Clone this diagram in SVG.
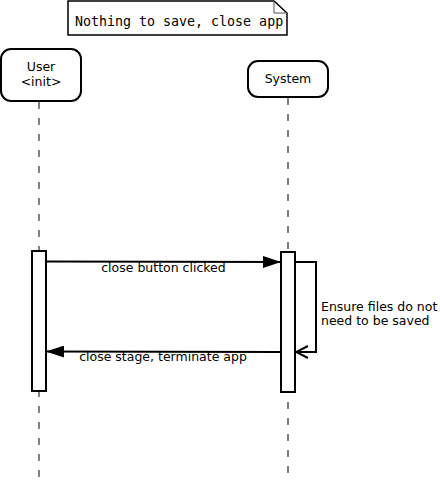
<svg xmlns="http://www.w3.org/2000/svg" width="440" height="482" viewBox="0 0 440 482">
<style>
.box{fill:#fff;stroke:#000;stroke-width:2}
.life{stroke:#808080;stroke-width:2;stroke-dasharray:7 9;fill:none}
.act{fill:#fff;stroke:#000;stroke-width:2}
.msg{stroke:#000;stroke-width:2;fill:none}
.t{font-family:"DejaVu Sans",sans-serif;font-size:12.5px;fill:#000}
.mono{font-family:"DejaVu Sans Mono",monospace;font-size:13.3px;fill:#000}
</style>
<defs>
<marker id="fill" markerWidth="18" markerHeight="12" refX="18" refY="6" orient="auto" markerUnits="userSpaceOnUse">
<path d="M0,0 L18,6 L0,12 Z" fill="#000"/>
</marker>
<marker id="open" markerWidth="14" markerHeight="14" refX="13" refY="7" orient="auto" markerUnits="userSpaceOnUse">
<path d="M1,1 L13,7 L1,13" fill="none" stroke="#000" stroke-width="2"/>
</marker>
</defs>
<g id="note">
<path d="M68,1 H274 L287,13 V35 H68 Z" fill="#fff" stroke="#000" stroke-width="1.5"/>
<path d="M274,1 V13 H287" fill="none" stroke="#555" stroke-width="1"/>
<text class="mono" x="75" y="26">Nothing to save, close app</text>
</g>
<g id="lifelines">
<line class="life" x1="39" y1="102" x2="39" y2="482"/>
<line class="life" x1="288" y1="98" x2="288" y2="482"/>
</g>
<g id="user">
<rect class="box" x="1" y="49" width="80" height="52" rx="10"/>
<text class="t" x="41" y="71" text-anchor="middle">User</text>
<text class="t" x="41" y="86" text-anchor="middle">&lt;init&gt;</text>
</g>
<g id="system">
<rect class="box" x="248" y="61" width="80" height="36" rx="10"/>
<text class="t" x="288" y="83" text-anchor="middle">System</text>
</g>
<g id="activations">
<rect class="act" x="32" y="251" width="14" height="140"/>
<rect class="act" x="281" y="252" width="14" height="140"/>
</g>
<g id="connectors">
<line class="msg" x1="46" y1="261.5" x2="281" y2="262" marker-end="url(#fill)"/>
<text class="t" x="163.5" y="272" text-anchor="middle">close button clicked</text>
<path class="msg" d="M295,262 H316 V352 H296" marker-end="url(#open)"/>
<text class="t" x="321" y="311">Ensure files do not</text>
<text class="t" x="321" y="325">need to be saved</text>
<line class="msg" x1="281" y1="352" x2="46" y2="351.5" marker-end="url(#fill)"/>
<text class="t" x="163" y="361" text-anchor="middle">close stage, terminate app</text>
</g>
</svg>
